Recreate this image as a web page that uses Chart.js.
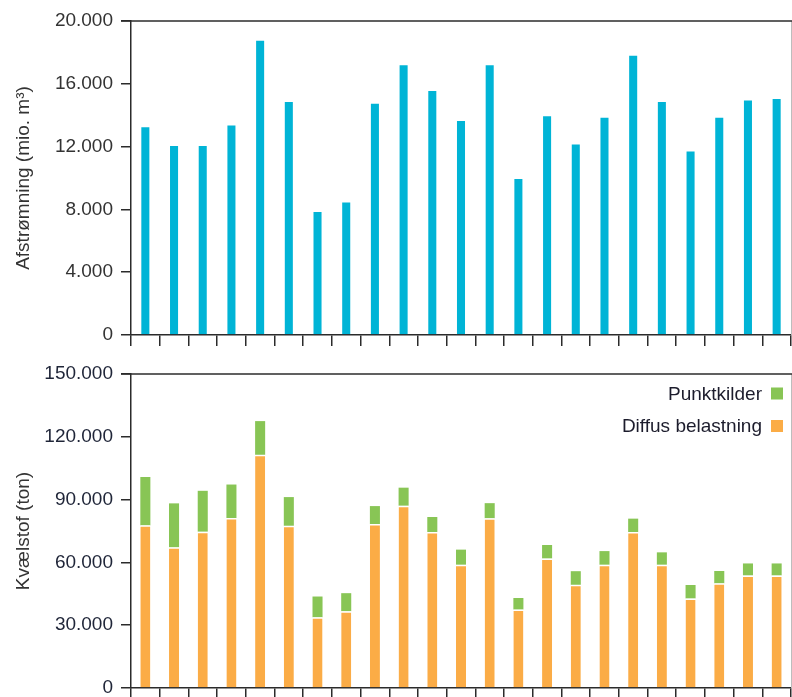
<!DOCTYPE html>
<html><head><meta charset="utf-8">
<script src="https://cdn.jsdelivr.net/npm/chart.js@4/dist/chart.umd.min.js"></script>
<style>
html,body{margin:0;padding:0;background:#fff;}
#c1{position:absolute;left:0;top:0;}
#c2{position:absolute;left:0;top:352px;}
</style></head><body>
<canvas id="c1" width="792" height="352"></canvas>
<canvas id="c2" width="792" height="345"></canvas>
<script>
// ---- data ----
const categories = ['1990','1991','1992','1993','1994','1995','1996','1997','1998','1999','2000','2001','2002','2003','2004','2005','2006','2007','2008','2009','2010','2011','2012'];
const afstroemning = [13300,12100,12100,13400,18800,14900,7900,8500,14800,17250,15600,13700,17250,10000,14000,12200,13900,17850,14900,11750,13900,15000,15100];
const diffusBelastning = [77700,67200,74700,81200,111400,77500,33800,36700,78300,87100,74500,58900,81100,37500,61900,49300,58900,74500,58900,42800,50000,53800,53800];
const punktkilder = [23100,21000,19500,16000,16100,13700,9900,8600,8600,8600,7200,7200,7200,5500,6400,6500,6500,6400,5900,6400,5900,5700,5700];
const ticksTop = [0,4000,8000,12000,16000,20000];
const ticksBottom = [0,30000,60000,90000,120000,150000];
const titleTop = 'Afstrømning (mio. m³)';
const titleBottom = 'Kvælstof (ton)';
const legendLabels = ['Punktkilder','Diffus belastning'];

// ---- styling ----
const FONT = "'Liberation Sans', Arial, sans-serif";
const CYAN = '#00b4d6', ORANGE = '#fbac46', GREEN = '#88c555';
const AXIS = '#2b2b2b';
const fmt = v => String(v).replace(/\B(?=(\d{3})+(?!\d))/g, '.');

const frame = {
  id: 'frame',
  afterDraw(chart) {
    const {ctx, chartArea: a} = chart;
    ctx.save();
    ctx.strokeStyle = '#bdbdbd'; ctx.lineWidth = 1;
    ctx.beginPath(); ctx.moveTo(a.right + 0.5, a.top); ctx.lineTo(a.right + 0.5, a.bottom); ctx.stroke();
    ctx.strokeStyle = AXIS; ctx.lineWidth = 1.5;
    ctx.beginPath(); ctx.moveTo(a.left - 10, a.top); ctx.lineTo(a.right + 1, a.top); ctx.stroke();
    ctx.restore();
  }
};

function xScale(h) {
  return {
    stacked: true,
    grid: {display: true, drawOnChartArea: false, drawTicks: true, tickLength: 11, color: AXIS, lineWidth: 1.5, offset: true},
    border: {display: true, color: AXIS, width: 1.5},
    ticks: {display: false},
    afterFit: s => { s.height = h; s.paddingLeft = 0; s.paddingRight = 0; }
  };
}
function yScale(max, tickVals, title, color) {
  return {
    stacked: true, min: 0, max: max,
    afterBuildTicks: s => { s.ticks = tickVals.map(v => ({value: v})); },
    grid: {drawOnChartArea: false, drawTicks: true, tickLength: 10, color: AXIS, lineWidth: 1.5},
    border: {display: true, color: AXIS, width: 1.5},
    ticks: {padding: 8, color: color, font: {family: FONT, size: 19}, callback: v => fmt(v)},
    title: {display: true, text: title, color: '#333', font: {family: FONT, size: 19}, padding: {top: 12, bottom: 0}},
    afterFit: s => { s.width = 131; s.paddingTop = 0; s.paddingBottom = 0; }
  };
}

new Chart(document.getElementById('c1'), {
  type: 'bar',
  data: {labels: categories, datasets: [{label: 'Afstrømning', data: afstroemning, backgroundColor: CYAN, borderColor: 'rgba(255,255,255,0.5)', borderWidth: 1, barPercentage: 0.35, categoryPercentage: 1}]},
  options: {
    responsive: false, animation: false, events: [],
    layout: {padding: {top: 21, right: 1, left: 0, bottom: 0}},
    plugins: {legend: {display: false}, tooltip: {enabled: false}},
    scales: {x: xScale(17), y: yScale(20000, ticksTop, titleTop, '#333')}
  },
  plugins: [frame]
});

const legendPlugin = {
  id: 'customLegend',
  afterDraw(chart) {
    const {ctx, chartArea: a} = chart;
    const items = chart.data.datasets.slice().reverse();
    ctx.save();
    ctx.font = '19px ' + FONT;
    ctx.textAlign = 'right'; ctx.textBaseline = 'middle';
    items.forEach((ds, i) => {
      const cy = a.top + 19.5 + i * 32.5;
      ctx.fillStyle = '#1c1c2c';
      ctx.fillText(ds.label, a.right - 29, cy + 1);
      ctx.fillStyle = ds.backgroundColor;
      ctx.fillRect(a.right - 20, cy - 6, 12, 12);
    });
    ctx.restore();
  }
};

new Chart(document.getElementById('c2'), {
  type: 'bar',
  data: {labels: categories, datasets: [
    {label: legendLabels[1], data: diffusBelastning, backgroundColor: ORANGE, borderColor: '#ffffff', borderWidth: {top: 1.5}, borderSkipped: 'bottom', barPercentage: 0.35, categoryPercentage: 1},
    {label: legendLabels[0], data: punktkilder, backgroundColor: GREEN, borderWidth: 0, barPercentage: 0.35, categoryPercentage: 1}
  ]},
  options: {
    responsive: false, animation: false, events: [],
    layout: {padding: {top: 22, right: 1, left: 0, bottom: 0}},
    plugins: {legend: {display: false}, tooltip: {enabled: false}},
    scales: {x: xScale(9), y: yScale(150000, ticksBottom, titleBottom, '#1f2538')}
  },
  plugins: [frame, legendPlugin]
});
</script>
</body></html>
